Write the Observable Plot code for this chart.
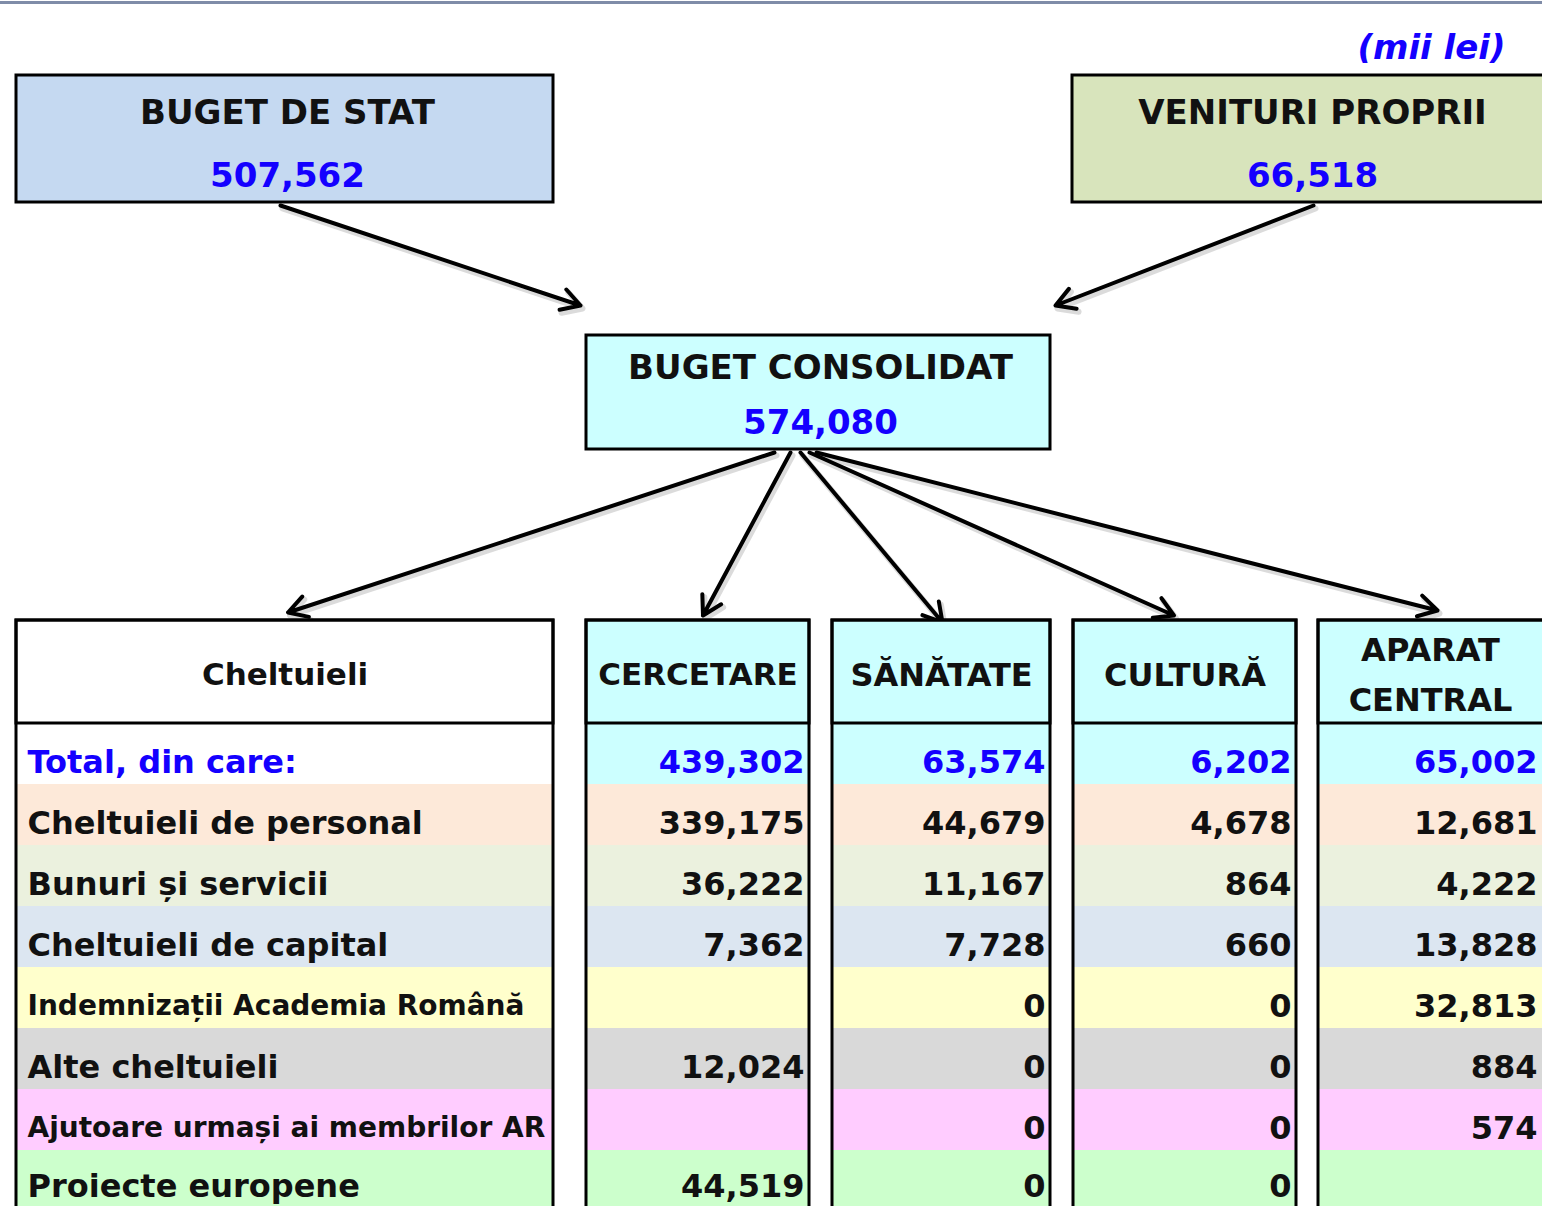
<!DOCTYPE html>
<html>
<head>
<meta charset="utf-8">
<script src="https://cdn.jsdelivr.net/npm/d3@7"></script>
<script src="https://cdn.jsdelivr.net/npm/@observablehq/plot@0.6"></script>
<style>
  html, body { margin: 0; padding: 0; background: #fff; }
  #chart svg { display: block; }
</style>
</head>
<body>
<div id="chart"></div>
<script>
// ---------------- DATA ----------------
const unitLabel = "(mii lei)";
const sourceNames = ["BUGET DE STAT", "VENITURI PROPRII"];
const sourceValues = [507562, 66518];
const consolidatedName = "BUGET CONSOLIDAT";
const consolidatedValue = 574080;
const rowHeader = "Cheltuieli";
const categories = [
  "Total, din care:",
  "Cheltuieli de personal",
  "Bunuri și servicii",
  "Cheltuieli de capital",
  "Indemnizații Academia Română",
  "Alte cheltuieli",
  "Ajutoare urmași ai membrilor AR",
  "Proiecte europene"
];
const divisions = ["CERCETARE", "SĂNĂTATE", "CULTURĂ", "APARAT\nCENTRAL"];
const cercetare = [439302, 339175, 36222, 7362, null, 12024, null, 44519];
const sanatate  = [63574, 44679, 11167, 7728, 0, 0, 0, 0];
const cultura   = [6202, 4678, 864, 660, 0, 0, 0, 0];
const aparat    = [65002, 12681, 4222, 13828, 32813, 884, 574, null];
const divisionValues = [cercetare, sanatate, cultura, aparat];

// ---------------- LAYOUT / STYLE ----------------
const W = 1542, H = 1206;
const FONT = "DejaVu Sans";
const BLUE = "#1400ff";
const INK = "#111";
const sourceBoxes = [
  {x1: 16, x2: 553, y1: 75, y2: 202, fill: "#c5d9f1", tx: 287},
  {x1: 1072, x2: 1570, y1: 75, y2: 202, fill: "#d8e4bc", tx: 1312}
];
const consBox = {x1: 586, x2: 1050, y1: 335, y2: 449, fill: "#ccffff", tx: 820};
const cols = [[16, 553], [586, 809], [832, 1050], [1073, 1296], [1318, 1570]];
const headTop = 620, headBottom = 723, rowH = 61;
const rowFills = ["#ffffff", "#fde9d9", "#ebf1de", "#dce6f1", "#ffffcc", "#d9d9d9", "#ffccff", "#ccffcc"];
const smallRows = new Set([4, 6]);
const TABLE_FS = 32, BOX_FS = 34;
const rowTextY = r => headBottom + r * rowH + (r === 7 ? 36 : 39);

// build tables from data
const sources = sourceNames.map((name, i) => ({name, value: sourceValues[i], ...sourceBoxes[i]}));
const cons = {name: consolidatedName, value: consolidatedValue, ...consBox};

const cells = [];
categories.forEach((cat, r) => {
  cols.forEach((c, ci) => {
    const fill = (r === 0 && ci > 0) ? "#ccffff" : rowFills[r];
    cells.push({x1: c[0], x2: c[1], y1: headBottom + r * rowH, y2: headBottom + (r + 1) * rowH, fill});
  });
});
const labelRows = categories.map((cat, r) => ({
  text: cat, r, x: cols[0][0] + 11, y: rowTextY(r)
}));
const valueCells = [];
divisionValues.forEach((vals, d) => {
  vals.forEach((v, r) => {
    if (v == null) return;
    valueCells.push({
      text: d3.format(",")(v), r, x: Math.min(cols[d + 1][1], W) - 5, y: rowTextY(r)
    });
  });
});
const headers = [{text: rowHeader, fill: "#ffffff", c: cols[0]}]
  .concat(divisions.map((d, i) => ({text: d, fill: "#ccffff", c: cols[i + 1]})));

// arrows
const consBottomX = [774, 790, 800, 809, 816];
const headerCenters = headers.map(h => (h.c[0] + Math.min(h.c[1], W)) / 2);
const arrows = [
  {x1: sources[0].tx - 7, y1: sources[0].y2 + 3, x2: cons.x1 - 6, y2: cons.y1 - 30},
  {x1: sources[1].tx + 1, y1: sources[1].y2 + 3, x2: cons.x2 + 5, y2: cons.y1 - 30},
  ...headers.map((h, i) => ({
    x1: consBottomX[i], y1: cons.y2 + 3,
    x2: headerCenters[i] + [3, 5, 1, -11, 7][i],
    y2: headTop - [8, 5, -2, 5, 10][i]
  }))
];

const chart = Plot.plot({
  width: W, height: H,
  margin: 0,
  x: {domain: [0, W], range: [0, W], axis: null},
  y: {domain: [0, H], range: [0, H], axis: null},
  style: {fontFamily: FONT, background: "#fff"},
  marks: [
    // top line
    Plot.ruleY([2], {stroke: "#7f8ca8", strokeWidth: 3}),
    // unit label
    Plot.text([unitLabel], {x: 1505, y: 48, text: d => d, textAnchor: "end", fill: BLUE,
      fontSize: 34, fontWeight: "bold", fontStyle: "italic"}),
    // source boxes
    Plot.rect(sources, {x1: "x1", x2: "x2", y1: "y1", y2: "y2", fill: "fill", stroke: "#000", strokeWidth: 3}),
    Plot.text(sources, {x: "tx", y: d => d.y1 + 38, text: "name", fontSize: BOX_FS, fontWeight: "bold", fill: INK}),
    Plot.text(sources, {x: "tx", y: d => d.y1 + 101, text: d => d3.format(",")(d.value), fontSize: BOX_FS, fontWeight: "bold", fill: BLUE}),
    // consolidated box
    Plot.rect([cons], {x1: "x1", x2: "x2", y1: "y1", y2: "y2", fill: "fill", stroke: "#000", strokeWidth: 3}),
    Plot.text([cons], {x: "tx", y: d => d.y1 + 33, text: "name", fontSize: BOX_FS, fontWeight: "bold", fill: INK}),
    Plot.text([cons], {x: "tx", y: d => d.y1 + 88, text: d => d3.format(",")(d.value), fontSize: BOX_FS, fontWeight: "bold", fill: BLUE}),
    // arrow shadows + arrows
    Plot.arrow(arrows, {x1: d => d.x1 + 2, y1: d => d.y1 + 3, x2: d => d.x2 + 2, y2: d => d.y2 + 3,
      stroke: "#888", strokeOpacity: 0.3, strokeWidth: 6, headLength: 8 * 4 / 6, headAngle: 60}),
    Plot.arrow(arrows, {x1: "x1", y1: "y1", x2: "x2", y2: "y2", stroke: "#000", strokeWidth: 4, headLength: 8, headAngle: 60}),
    // table cells
    Plot.rect(cells, {x1: "x1", x2: "x2", y1: "y1", y2: "y2", fill: "fill"}),
    // headers
    Plot.rect(headers, {x1: d => d.c[0], x2: d => d.c[1], y1: headTop, y2: headBottom, fill: "fill", stroke: "#000", strokeWidth: 3}),
    Plot.rect(headers, {x1: d => d.c[0], x2: d => d.c[1], y1: headTop, y2: H + 20, fill: "none", stroke: "#000", strokeWidth: 3}),
    Plot.text(headers, {x: d => (d.c[0] + Math.min(d.c[1], W)) / 2, y: (headTop + headBottom) / 2 - 2, text: "text",
      fontSize: d => d.text.length > 8 && !d.text.includes("\n") ? 31 : TABLE_FS, fontWeight: "bold", fill: INK, lineHeight: 1.56}),
    // row labels
    Plot.text(labelRows, {x: "x", y: "y", text: "text", textAnchor: "start",
      fontSize: d => smallRows.has(d.r) ? 28 : TABLE_FS, fontWeight: "bold",
      fill: d => d.r === 0 ? BLUE : INK}),
    // values
    Plot.text(valueCells, {x: "x", y: "y", text: "text", textAnchor: "end", fontSize: TABLE_FS, fontWeight: "bold",
      fill: d => d.r === 0 ? BLUE : INK})
  ]
});
document.getElementById("chart").appendChild(chart);
</script>
</body>
</html>
